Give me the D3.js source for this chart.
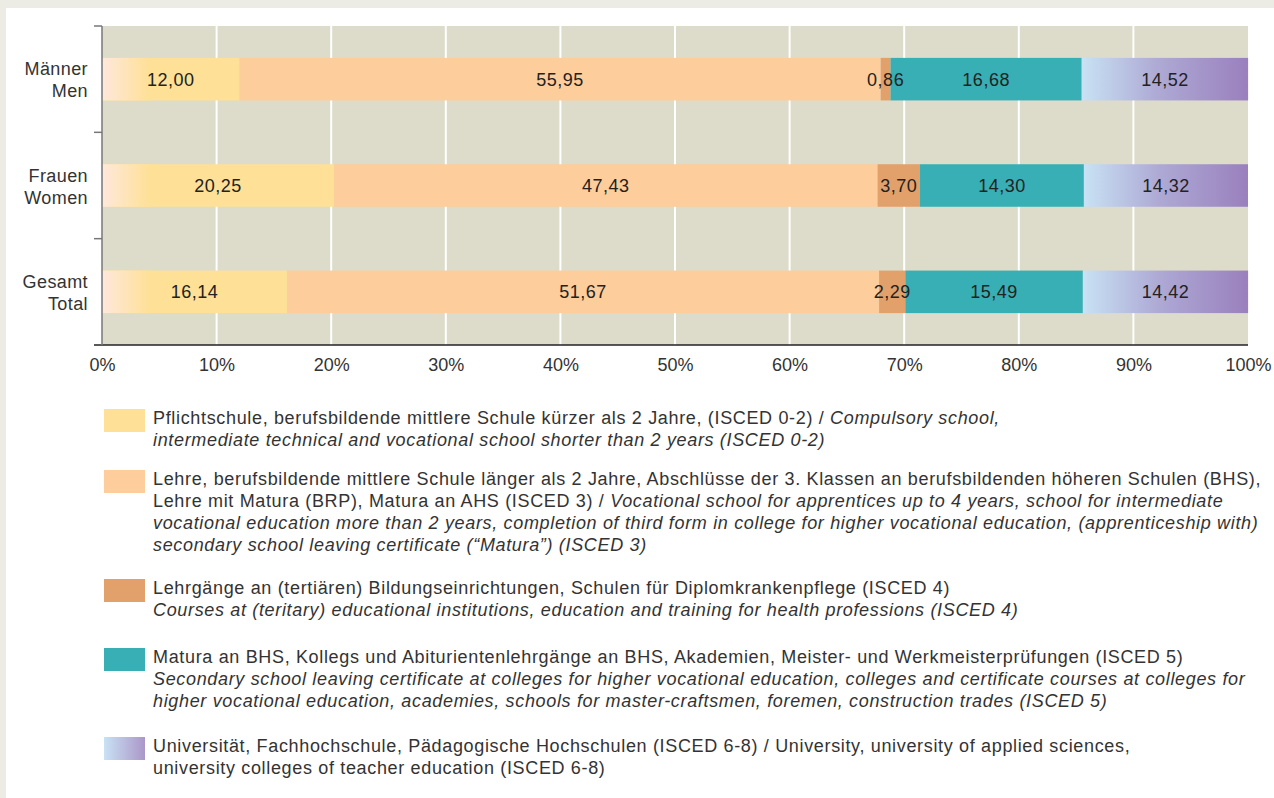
<!DOCTYPE html>
<html>
<head>
<meta charset="utf-8">
<script src="https://cdn.jsdelivr.net/npm/d3@7"></script>
<style>
  html, body { margin: 0; padding: 0; background: #ecebe4; }
  svg { display: block; }
  text { font-family: "Liberation Sans", Arial, sans-serif; fill: #333; }
</style>
</head>
<body>
<svg id="chart" width="1274" height="798"></svg>
<script>
// categories (two-line labels, German / English)
var categories = ["Männer|Men", "Frauen|Women", "Gesamt|Total"];
// one array per education level, same order as categories
var isced02  = [12.00, 20.25, 16.14];
var isced3   = [55.95, 47.43, 51.67];
var isced4   = [0.86, 3.70, 2.29];
var isced5   = [16.68, 14.30, 15.49];
var isced68  = [14.52, 14.32, 14.42];
var seriesKeys = ["isced02", "isced3", "isced4", "isced5", "isced68"];
var xTicks = [0, 10, 20, 30, 40, 50, 60, 70, 80, 90, 100];

// legend texts: each line is a list of [text, italic]
var legendLines = [
  [[["Pflichtschule, berufsbildende mittlere Schule kürzer als 2 Jahre, (ISCED 0-2) / ", 0], ["Compulsory school,", 1]],
   [["intermediate technical and vocational school shorter than 2 years (ISCED 0-2)", 1]]],
  [[["Lehre, berufsbildende mittlere Schule länger als 2 Jahre, Abschlüsse der 3. Klassen an berufsbildenden höheren Schulen (BHS),", 0]],
   [["Lehre mit Matura (BRP), Matura an AHS (ISCED 3) / ", 0], ["Vocational school for apprentices up to 4 years, school for intermediate", 1]],
   [["vocational education more than 2 years, completion of third form in college for higher vocational education, (apprenticeship with)", 1]],
   [["secondary school leaving certificate (“Matura”) (ISCED 3)", 1]]],
  [[["Lehrgänge an (tertiären) Bildungseinrichtungen, Schulen für Diplomkrankenpflege (ISCED 4)", 0]],
   [["Courses at (teritary) educational institutions, education and training for health professions (ISCED 4)", 1]]],
  [[["Matura an BHS, Kollegs und Abiturientenlehrgänge an BHS, Akademien, Meister- und Werkmeisterprüfungen (ISCED 5)", 0]],
   [["Secondary school leaving certificate at colleges for higher vocational education, colleges and certificate courses at colleges for", 1]],
   [["higher vocational education, academies, schools for master-craftsmen, foremen, construction trades (ISCED 5)", 1]]],
  [[["Universität, Fachhochschule, Pädagogische Hochschulen (ISCED 6-8) / University, university of applied sciences,", 0]],
   [["university colleges of teacher education (ISCED 6-8)", 0]]]
];

var valuesByKey = { isced02: isced02, isced3: isced3, isced4: isced4, isced5: isced5, isced68: isced68 };
var rows = categories.map(function(c, i) {
  var r = { cat: c };
  seriesKeys.forEach(function(k) { r[k] = valuesByKey[k][i]; });
  return r;
});

var svg = d3.select("#chart");

// white panel
svg.append("rect").attr("x", 6).attr("y", 8).attr("width", 1268).attr("height", 790).attr("fill", "#fff");

var defs = svg.append("defs");
var g1 = defs.append("linearGradient").attr("id", "gradYellow").attr("x1", "0").attr("x2", "1");
g1.append("stop").attr("offset", "0%").attr("stop-color", "#fee8dc");
g1.append("stop").attr("offset", "100%").attr("stop-color", "#fee096");
var g2 = defs.append("linearGradient").attr("id", "gradPurple").attr("x1", "0").attr("x2", "1");
g2.append("stop").attr("offset", "0%").attr("stop-color", "#c8e2f4");
g2.append("stop").attr("offset", "45%").attr("stop-color", "#aeaad5");
g2.append("stop").attr("offset", "100%").attr("stop-color", "#9a80bd");
var g3 = defs.append("linearGradient").attr("id", "gradPurpleLeg").attr("x1", "0").attr("x2", "1");
g3.append("stop").attr("offset", "0%").attr("stop-color", "#c8e2f4");
g3.append("stop").attr("offset", "100%").attr("stop-color", "#ab97c8");

var colors = {
  isced02: "#fee096",
  isced3: "#fdcd9b",
  isced4: "#e2a16a",
  isced5: "#38afb4",
  isced68: "url(#gradPurple)"
};
var legendFills = ["#fee096", "#fdcd9b", "#e2a16a", "#38afb4", "url(#gradPurpleLeg)"];

var mLeft = 102, mRight = 1248, mTop = 26, mBottom = 345;

var x = d3.scaleLinear().domain([0, 100]).range([mLeft, mRight]);
var y = d3.scaleBand().domain(categories).range([mTop, mBottom]).paddingInner(0.6).paddingOuter(0.3);

// plot background
svg.append("rect").attr("x", mLeft).attr("y", mTop).attr("width", mRight - mLeft).attr("height", mBottom - mTop).attr("fill", "#dddbc9");

// vertical grid lines
svg.append("g").selectAll("line").data(xTicks.slice(1, -1)).join("line")
  .attr("x1", function(d) { return x(d); }).attr("x2", function(d) { return x(d); })
  .attr("y1", mTop).attr("y2", mBottom)
  .attr("stroke", "#fff").attr("stroke-width", 2);

// stacked bars
var stack = d3.stack().keys(seriesKeys)(rows);
var layers = svg.append("g").selectAll("g").data(stack).join("g");

layers.each(function(layer) {
  var key = layer.key;
  var grp = d3.select(this);
  grp.selectAll("rect.seg").data(layer).join("rect")
    .attr("class", "seg")
    .attr("x", function(d) { return x(d[0]); })
    .attr("width", function(d) { return x(d[1]) - x(d[0]); })
    .attr("y", function(d) { return y(d.data.cat); })
    .attr("height", y.bandwidth())
    .attr("fill", colors[key]);
  if (key === "isced02") {
    // fade-in at the start of the first segment
    grp.selectAll("rect.fade").data(layer).join("rect")
      .attr("class", "fade")
      .attr("x", x(0))
      .attr("width", 48)
      .attr("y", function(d) { return y(d.data.cat); })
      .attr("height", y.bandwidth())
      .attr("fill", "url(#gradYellow)");
  }
});

// value labels, drawn above all bars
var labelData = [];
stack.forEach(function(layer) { layer.forEach(function(d) { labelData.push(d); }); });
svg.append("g").selectAll("text").data(labelData).join("text")
  .attr("x", function(d) { return (x(d[0]) + x(d[1])) / 2; })
  .attr("y", function(d) { return y(d.data.cat) + y.bandwidth() / 2; })
  .attr("dy", "0.37em")
  .attr("text-anchor", "middle")
  .style("font-size", "18px")
  .style("letter-spacing", "0.5px")
  .style("fill", "#222")
  .text(function(d) { return d3.format(".2f")(d[1] - d[0]).replace(".", ","); });

// x axis
var xAxis = d3.axisBottom(x).tickValues(xTicks).tickSize(0).tickPadding(13)
  .tickFormat(function(d) { return d + "%"; });
var gx = svg.append("g").attr("transform", "translate(0," + mBottom + ")").call(xAxis);
gx.select(".domain").remove();
gx.selectAll("text").style("font-size", "18px").style("fill", "#333")
  .style("font-family", "'Liberation Sans', Arial, sans-serif");
svg.append("line").attr("x1", mLeft - 8).attr("x2", mRight).attr("y1", mBottom).attr("y2", mBottom)
  .attr("stroke", "#222").attr("stroke-width", 1.5);

// y axis with ticks at band boundaries
svg.append("line").attr("x1", mLeft).attr("x2", mLeft).attr("y1", mTop).attr("y2", mBottom)
  .attr("stroke", "#777").attr("stroke-width", 1.5);
var step = y.step();
var boundaries = [0, 1, 2].map(function(i) { return mTop + i * step; });
svg.append("g").selectAll("line").data(boundaries).join("line")
  .attr("x1", mLeft - 8).attr("x2", mLeft).attr("y1", function(d) { return d; }).attr("y2", function(d) { return d; })
  .attr("stroke", "#777").attr("stroke-width", 1.5);

// category labels
categories.forEach(function(c) {
  var parts = c.split("|");
  var cy = y(c) + y.bandwidth() / 2;
  var t = svg.append("text").attr("text-anchor", "end").style("font-size", "18px")
    .style("letter-spacing", "0.4px").style("fill", "#333");
  t.append("tspan").attr("x", 88).attr("y", cy - 4).text(parts[0]);
  t.append("tspan").attr("x", 88).attr("y", cy + 18).text(parts[1]);
});

// legend
var swatchY = [409, 470, 579, 648, 737];
var lg = svg.append("g");
legendLines.forEach(function(lines, i) {
  lg.append("rect").attr("x", 104).attr("y", swatchY[i]).attr("width", 41).attr("height", 23)
    .attr("fill", legendFills[i]);
  lines.forEach(function(line, j) {
    var t = lg.append("text").attr("x", 153).attr("y", swatchY[i] + 14.5 + j * 22)
      .style("font-size", "18px").style("letter-spacing", "0.66px").style("fill", "#333");
    line.forEach(function(seg) {
      t.append("tspan").style("font-style", seg[1] ? "italic" : "normal").text(seg[0]);
    });
  });
});
</script>
</body>
</html>
